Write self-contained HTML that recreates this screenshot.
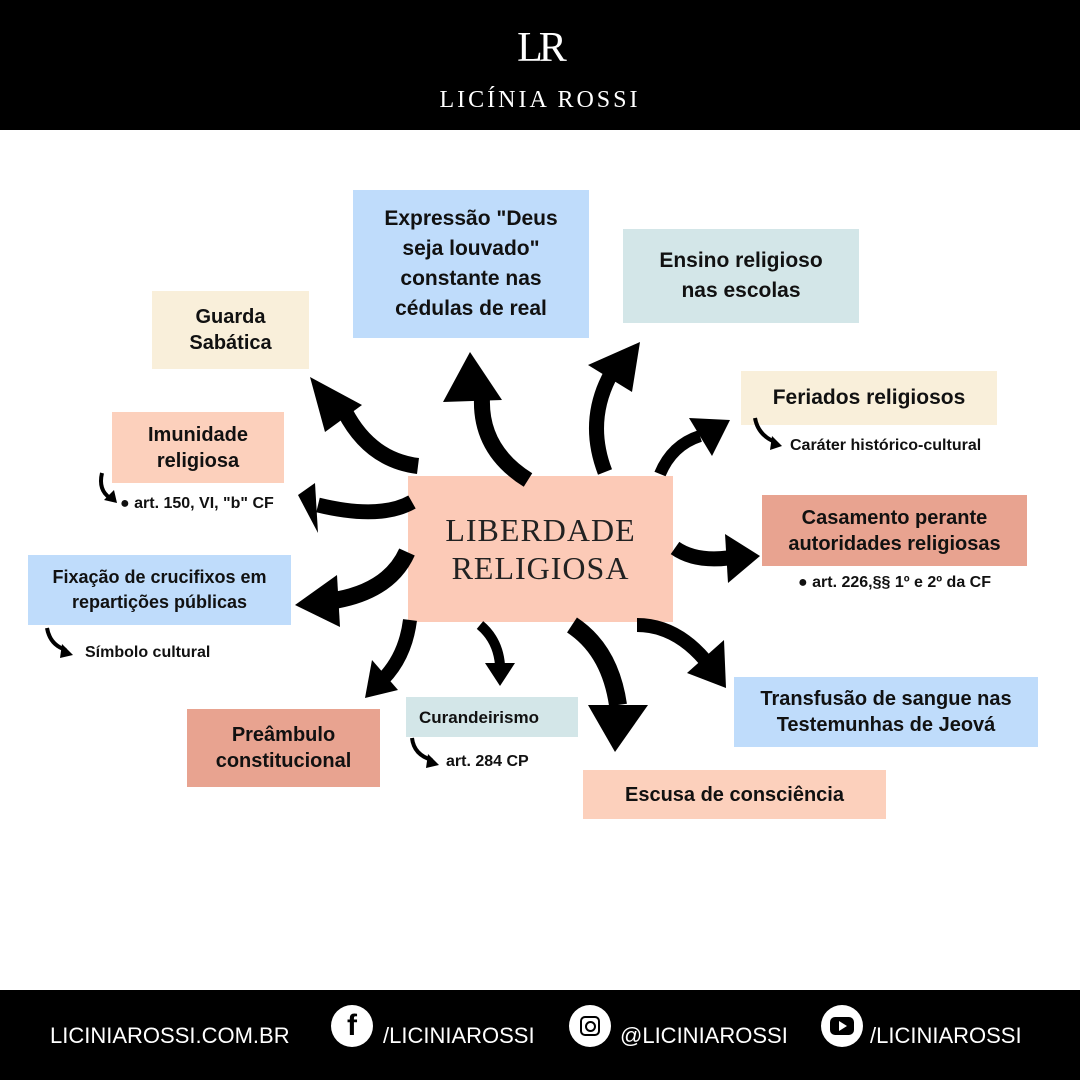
<!DOCTYPE html>
<html><head><meta charset="utf-8"><style>
body{margin:0;width:1080px;height:1080px;position:relative;background:#fff;font-family:"Liberation Sans",sans-serif;overflow:hidden}
.b{position:absolute;display:flex;align-items:center;justify-content:center;text-align:center;font-weight:bold;color:#111;font-size:20px;line-height:26px}
.t{position:absolute;font-weight:bold;font-size:16px;color:#111;white-space:nowrap}
.hdr{position:absolute;left:0;top:0;width:1080px;height:130px;background:#000}
.ftr{position:absolute;left:0;top:990px;width:1080px;height:90px;background:#000;color:#fff;font-size:22px}
.ftr span{position:absolute;top:33px}
.c{position:absolute;top:15px;width:42px;height:42px;border-radius:50%;background:#fff}
</style></head><body>
<div class="hdr">
<div style="position:absolute;left:0;width:1080px;top:24px;text-align:center;color:#fff;font-family:'Liberation Serif',serif;font-size:42px;letter-spacing:-4px">LR</div>
<div style="position:absolute;left:0;width:1080px;top:87px;text-align:center;color:#fff;font-family:'Liberation Serif',serif;font-size:24px;letter-spacing:3px">LICÍNIA ROSSI</div>
</div>

<div class="b" style="left:353px;top:190px;width:236px;height:148px;background:#bfdcfb;font-size:21px;line-height:30px">Expressão "Deus<br>seja louvado"<br>constante nas<br>cédulas de real</div>
<div class="b" style="left:623px;top:229px;width:236px;height:94px;background:#d3e6e8;font-size:21px;line-height:30px">Ensino religioso<br>nas escolas</div>
<div class="b" style="left:152px;top:291px;width:157px;height:78px;background:#f9efda">Guarda<br>Sabática</div>
<div class="b" style="left:741px;top:371px;width:256px;height:54px;background:#f9efda;font-size:21px">Feriados religiosos</div>
<div class="t" style="left:790px;top:437px">Caráter histórico-cultural</div>
<div class="b" style="left:112px;top:412px;width:172px;height:71px;background:#fcd0bc">Imunidade<br>religiosa</div>
<div class="t" style="left:120px;top:495px">● art. 150, VI, "b" CF</div>
<div class="b" style="left:408px;top:476px;width:265px;height:146px;background:#fccab7;font-weight:normal;font-family:'Liberation Serif',serif;font-size:32px;line-height:38px;letter-spacing:1px;color:#222">LIBERDADE<br>RELIGIOSA</div>
<div class="b" style="left:762px;top:495px;width:265px;height:71px;background:#e8a390">Casamento perante<br>autoridades religiosas</div>
<div class="t" style="left:798px;top:574px">● art. 226,§§ 1º e 2º da CF</div>
<div class="b" style="left:28px;top:555px;width:263px;height:70px;background:#bfdcfb;font-size:18px;line-height:25px">Fixação de crucifixos em<br>repartições públicas</div>
<div class="t" style="left:85px;top:644px">Símbolo cultural</div>
<div class="b" style="left:734px;top:677px;width:304px;height:70px;background:#bfdcfb">Transfusão de sangue nas<br>Testemunhas de Jeová</div>
<div class="b" style="left:187px;top:709px;width:193px;height:78px;background:#e8a390">Preâmbulo<br>constitucional</div>
<div class="b" style="left:406px;top:697px;width:172px;height:40px;background:#d3e6e8;font-size:17px;justify-content:flex-start;padding-left:13px;box-sizing:border-box;align-items:flex-start;padding-top:8px">Curandeirismo</div>
<div class="t" style="left:446px;top:753px">art. 284 CP</div>
<div class="b" style="left:583px;top:770px;width:303px;height:49px;background:#fcd0bc">Escusa de consciência</div>

<svg width="1080" height="1080" style="position:absolute;left:0;top:0" fill="#000">
<g stroke="#000" fill="none" stroke-linecap="butt">
<path d="M418 466 Q370 460 345 412" stroke-width="16"/>
<path d="M528 480 Q480 450 482 398" stroke-width="16"/>
<path d="M605 472 Q585 420 612 372" stroke-width="15"/>
<path d="M660 474 Q672 445 700 436" stroke-width="12"/>
<path d="M412 502 Q380 520 318 505" stroke-width="15"/>
<path d="M407 552 Q390 590 337 600" stroke-width="17"/>
<path d="M410 620 Q405 660 378 684" stroke-width="14"/>
<path d="M480 625 Q498 640 500 665" stroke-width="10"/>
<path d="M572 625 Q610 650 618 705" stroke-width="18"/>
<path d="M637 625 Q675 625 705 660" stroke-width="14"/>
<path d="M675 548 Q695 562 728 558" stroke-width="15"/>
<path d="M102 473 Q98 490 110 498" stroke-width="4"/>
<path d="M755 418 Q758 435 775 442" stroke-width="4"/>
<path d="M47 628 Q50 645 66 650" stroke-width="4"/>
<path d="M412 738 Q414 755 432 760" stroke-width="4"/>
</g>
<polygon points="310,377 362,405 325,432"/>
<polygon points="470,352 443,402 502,400"/>
<polygon points="640,342 588,365 632,392"/>
<polygon points="730,420 689,418 712,456"/>
<polygon points="298,495 315,483 318,533"/>
<polygon points="295,605 337,575 340,627"/>
<polygon points="365,698 372,660 398,690"/>
<polygon points="500,686 485,663 515,663"/>
<polygon points="615,752 588,705 648,705"/>
<polygon points="726,688 687,673 724,640"/>
<polygon points="760,556 725,534 728,583"/>
<polygon points="117,503 104,500 114,490"/>
<polygon points="782,446 770,450 772,436"/>
<polygon points="73,655 60,658 62,644"/>
<polygon points="439,765 426,768 428,754"/>
</svg>

<div class="ftr">
<span style="left:50px">LICINIAROSSI.COM.BR</span>
<div class="c" style="left:331px"><div style="position:absolute;left:0;width:42px;top:4px;text-align:center;color:#000;font-weight:bold;font-size:30px">f</div></div>
<span style="left:383px">/LICINIAROSSI</span>
<div class="c" style="left:569px"><div style="position:absolute;left:11px;top:11px;width:16px;height:16px;border:2.5px solid #000;border-radius:5px"></div><div style="position:absolute;left:16px;top:16px;width:7px;height:7px;border:2.5px solid #000;border-radius:50%"></div></div>
<span style="left:620px">@LICINIAROSSI</span>
<div class="c" style="left:821px"><div style="position:absolute;left:9px;top:12px;width:24px;height:18px;background:#000;border-radius:5px"></div><div style="position:absolute;left:18px;top:16px;width:0;height:0;border-left:8px solid #fff;border-top:5px solid transparent;border-bottom:5px solid transparent"></div></div>
<span style="left:870px">/LICINIAROSSI</span>
</div>
</body></html>
